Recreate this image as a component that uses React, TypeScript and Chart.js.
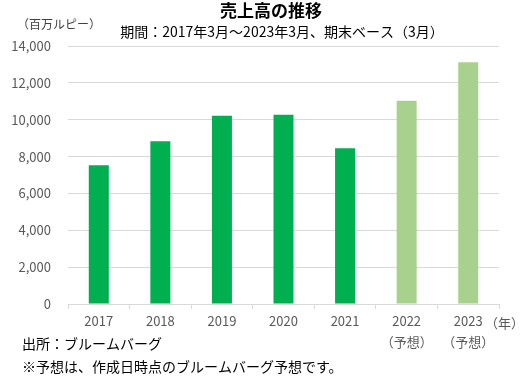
import React, { useEffect, useRef } from "react";
import { Chart, registerables } from "chart.js";

Chart.register(...registerables);

const years = ["2017", "2018", "2019", "2020", "2021", "2022", "2023"];
const sales = [7530, 8830, 10220, 10270, 8450, 11030, 13120];
const isForecast = [false, false, false, false, false, true, true];
const yTicks = [0, 2000, 4000, 6000, 8000, 10000, 12000, 14000];

const TITLE = "売上高の推移";
const SUBTITLE = "期間：2017年3月～2023年3月、期末ベース（3月）";
const UNIT = "（百万ルピー）";
const YEAR_UNIT = "（年）";
const FORECAST_TAG = "（予想）";
const SOURCE = "出所：ブルームバーグ";
const NOTE = "※予想は、作成日時点のブルームバーグ予想です。";

const ACTUAL_COLOR = "#00B050";
const FORECAST_COLOR = "#A9D18E";
const GRID = "#D9D9D9";
const TICK_TEXT = "#595959";
const FONT = "'Noto Sans CJK JP', 'Noto Sans', sans-serif";

const textPlugin = {
  id: "texts",
  afterDraw(chart: any) {
    const ctx = chart.ctx;
    ctx.save();
    ctx.textBaseline = "middle";
    ctx.fillStyle = "#000000";
    ctx.textAlign = "center";
    ctx.font = `bold 17px ${FONT}`;
    ctx.fillText(TITLE, 271, 11);
    ctx.font = `14px ${FONT}`;
    ctx.fillText(SUBTITLE, 282, 32);
    ctx.textAlign = "left";
    ctx.font = `12px ${FONT}`;
    ctx.fillStyle = "#404040";
    ctx.fillText(UNIT, 17, 24);
    ctx.font = `13px ${FONT}`;
    ctx.fillStyle = TICK_TEXT;
    ctx.fillText(YEAR_UNIT, 485, 323);
    ctx.fillStyle = "#000000";
    ctx.font = `14px ${FONT}`;
    ctx.fillText(SOURCE, 22, 344);
    ctx.fillText(NOTE, 22, 367);
    ctx.restore();
  },
};

export default function App() {
  const ref = useRef<HTMLCanvasElement>(null);
  useEffect(() => {
    if (!ref.current) return;
    const labels = years.map((y, i) => (isForecast[i] ? [y, FORECAST_TAG] : y));
    const chart = new Chart(ref.current, {
      type: "bar",
      data: {
        labels,
        datasets: [
          {
            data: sales,
            backgroundColor: isForecast.map((f) => (f ? FORECAST_COLOR : ACTUAL_COLOR)),
            barPercentage: 0.325,
            categoryPercentage: 1,
          },
        ],
      },
      options: {
        responsive: false,
        animation: false,
        layout: { padding: { top: 46, right: 29, left: 8, bottom: 0 } },
        plugins: { legend: { display: false }, tooltip: { enabled: false } },
        scales: {
          x: {
            grid: {
              display: true,
              drawOnChartArea: false,
              drawTicks: true,
              tickLength: 5,
              color: GRID,
              offset: true,
            },
            border: { display: true, color: GRID, width: 1 },
            ticks: {
              color: TICK_TEXT,
              font: { family: FONT, size: 13, lineHeight: 1.6 },
              padding: 2,
              maxRotation: 0,
              autoSkip: false,
            },
            afterFit(scale: any) {
              scale.height = 77;
            },
          },
          y: {
            min: 0,
            max: 14000,
            afterBuildTicks(scale: any) {
              scale.ticks = yTicks.map((v) => ({ value: v }));
            },
            grid: { color: GRID, drawTicks: false, lineWidth: 1 },
            border: { display: false },
            ticks: {
              color: TICK_TEXT,
              font: { family: FONT, size: 13 },
              padding: 17,
              callback: (v: any) => Number(v).toLocaleString("en-US"),
            },
            afterFit(scale: any) {
              scale.width = 60;
            },
          },
        },
      },
      plugins: [textPlugin],
    });
    return () => chart.destroy();
  }, []);
  return (
    <div style={{ position: "fixed", left: 0, top: 0, width: 528, height: 381, background: "#fff" }}>
      <canvas ref={ref} width={528} height={381} style={{ display: "block" }} />
    </div>
  );
}
